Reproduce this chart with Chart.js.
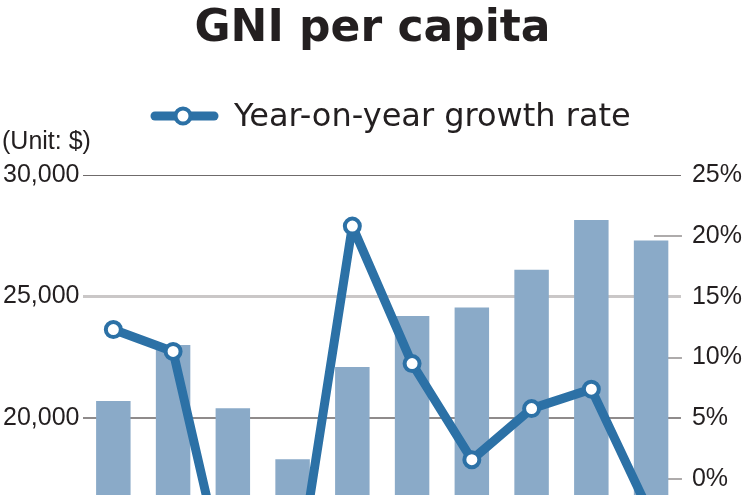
<!DOCTYPE html>
<html>
<head>
<meta charset="utf-8">
<title>GNI per capita</title>
<script src="https://cdn.jsdelivr.net/npm/chart.js@4.4.1/dist/chart.umd.min.js"></script>
<style>
  html, body { margin: 0; padding: 0; background: #fff; overflow: hidden; }
  canvas { display: block; }
</style>
</head>
<body>
<canvas id="gniChart" width="750" height="495"></canvas>
<script>
// year labels sit below the crop of the original graphic, so the x axis is hidden
const years = ['2006', '2007', '2008', '2009', '2010', '2011', '2012', '2013', '2014', '2015'];
const gniValues = [20700, 23000, 20400, 18300, 22100, 24200, 24550, 26100, 28150, 27300];
const growthRates = [12.3, 10.5, -10.8, -10.6, 20.8, 9.5, 1.6, 5.8, 7.4, -3.0];
const gniTicks = [20000, 25000, 30000];
const rateTicks = [0, 5, 10, 15, 20, 25];
const rateMarks = [0, 10, 20];

const textColor = '#231f20';
const barColor = '#8aaac8';
const lineColor = '#2c71a6';
const gridColors = { 20000: '#8f8b8b', 25000: '#cac7c7', 30000: '#6f6b6b' };
const gridWidths = { 20000: 2, 25000: 3, 30000: 1 };

// chart.js counts tick padding twice for vertical axes, and adds label overflow at the bottom
function trimAxis(scale) {
  scale.width -= scale.options.ticks.padding;
  scale.paddingBottom = 0;
}

// legend, unit note and the short tick marks of the right axis
const decorations = {
  id: 'decorations',
  beforeDatasetsDraw(chart) {
    const { ctx, chartArea } = chart;
    const y1 = chart.scales.y1;
    ctx.save();
    ctx.strokeStyle = '#aeabab';
    ctx.lineWidth = 2;
    rateMarks.forEach(function (v) {
      const y = Math.round(y1.getPixelForValue(v));
      ctx.beginPath();
      ctx.moveTo(chartArea.right - 27, y);
      ctx.lineTo(chartArea.right + 1, y);
      ctx.stroke();
    });
    ctx.restore();
  },
  afterDraw(chart) {
    const ctx = chart.ctx;
    ctx.save();
    ctx.fillStyle = textColor;
    ctx.textBaseline = 'middle';
    ctx.textAlign = 'left';
    ctx.font = '25px "Liberation Sans", Arial, sans-serif';
    ctx.fillText('(Unit: $)', 2, 142);

    // legend marker: thick line with a hollow point
    ctx.strokeStyle = lineColor;
    ctx.lineCap = 'round';
    ctx.lineWidth = 9;
    ctx.beginPath();
    ctx.moveTo(155, 116);
    ctx.lineTo(214, 116);
    ctx.stroke();
    ctx.beginPath();
    ctx.arc(183, 116, 7.5, 0, Math.PI * 2);
    ctx.fillStyle = '#fff';
    ctx.fill();
    ctx.lineWidth = 4;
    ctx.stroke();

    ctx.fillStyle = textColor;
    ctx.font = '32px "DejaVu Sans", sans-serif';
    ctx.fillText(chart.data.datasets[0].label, 234, 118);
    ctx.restore();
  }
};

new Chart(document.getElementById('gniChart'), {
  type: 'bar',
  data: {
    labels: years,
    datasets: [
      {
        type: 'line',
        label: 'Year-on-year growth rate',
        data: growthRates,
        yAxisID: 'y1',
        order: 1,
        borderColor: lineColor,
        borderWidth: 9,
        borderJoinStyle: 'round',
        tension: 0,
        pointRadius: 7.5,
        pointBorderWidth: 4,
        pointBorderColor: lineColor,
        pointBackgroundColor: '#fff'
      },
      {
        label: 'GNI per capita',
        data: gniValues,
        yAxisID: 'y',
        order: 2,
        backgroundColor: barColor,
        barPercentage: 0.577,
        categoryPercentage: 1
      }
    ]
  },
  options: {
    responsive: false,
    devicePixelRatio: 1,
    animation: false,
    events: [],
    layout: { autoPadding: false, padding: { left: 3, right: 8, top: 0, bottom: 0 } },
    plugins: {
      legend: { display: false },
      tooltip: { enabled: false },
      title: {
        display: true,
        text: 'GNI per capita',
        color: textColor,
        font: { family: '"DejaVu Sans", sans-serif', size: 44, weight: 'bold' },
        padding: { top: 3, bottom: 119.2 }
      }
    },
    scales: {
      x: { display: false },
      y: {
        position: 'left',
        min: 16830,
        max: 30000,
        border: { display: false },
        afterBuildTicks: function (scale) {
          scale.ticks = gniTicks.map(function (v) { return { value: v }; });
        },
        afterFit: trimAxis,
        grid: {
          drawTicks: false,
          color: function (c) { return gridColors[c.tick.value] || 'transparent'; },
          lineWidth: function (c) { return gridWidths[c.tick.value] || 0; }
        },
        ticks: {
          padding: 4,
          color: textColor,
          font: { family: '"Liberation Sans", Arial, sans-serif', size: 25 },
          callback: function (v) { return v.toLocaleString('en-US'); }
        }
      },
      y1: {
        position: 'right',
        min: -1.3,
        max: 25,
        border: { display: false },
        afterBuildTicks: function (scale) {
          scale.ticks = rateTicks.map(function (v) { return { value: v }; });
        },
        afterFit: trimAxis,
        grid: { drawOnChartArea: false, drawTicks: false },
        ticks: {
          padding: 11,
          color: textColor,
          font: { family: '"Liberation Sans", Arial, sans-serif', size: 25 },
          callback: function (v) { return v + '%'; }
        }
      }
    }
  },
  plugins: [decorations]
});
</script>
</body>
</html>
